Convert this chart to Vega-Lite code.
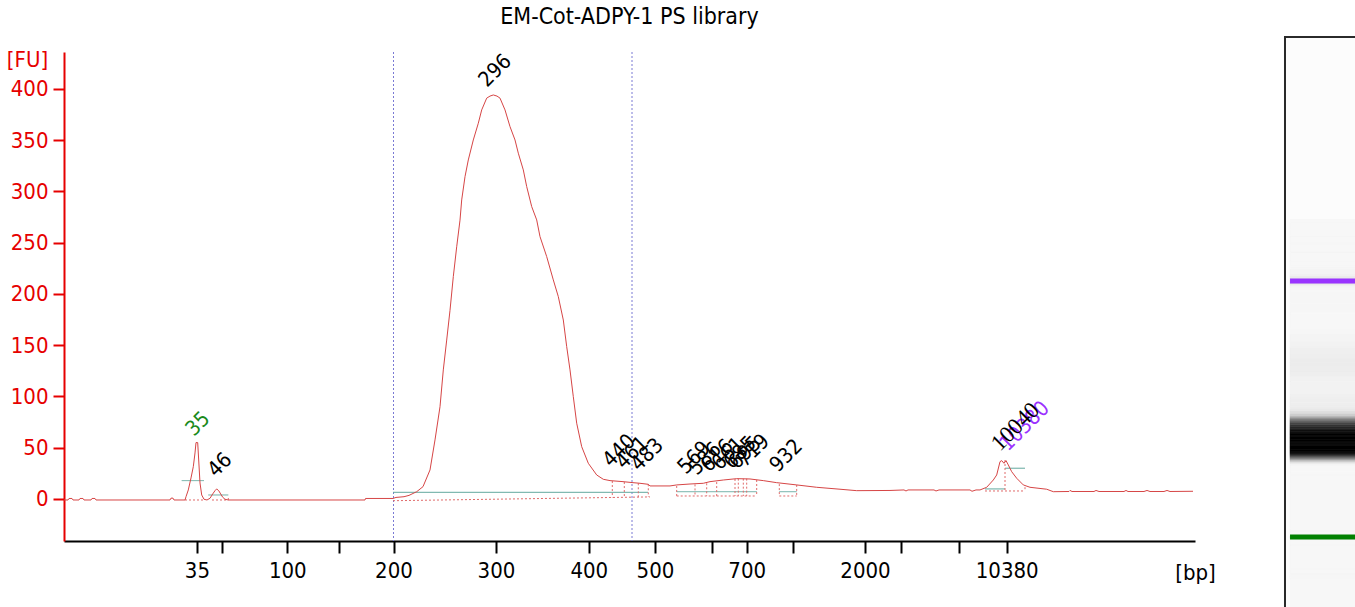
{
  "$schema": "https://vega.github.io/schema/vega-lite/v6.json",
  "width": 1131,
  "height": 489,
  "autosize": "none",
  "padding": {"left": 64, "top": 52, "right": 160, "bottom": 66},
  "background": "#ffffff",
  "config": {"view": {"stroke": null}, "axis": {"grid": false}},
  "title": {"text": "EM-Cot-ADPY-1 PS library", "font": "DejaVu Sans Condensed, Liberation Sans, sans-serif", "fontSize": 23, "fontWeight": "normal", "color": "#000000", "anchor": "middle", "frame": "group", "baseline": "alphabetic", "offset": -11},
  "datasets": {
    "curve": [
      {"t": 0, "fu": -1}, {"t": 0.4, "fu": -1}, {"t": 0.5, "fu": 0.5}, {"t": 0.8, "fu": 0.5}, {"t": 0.9, "fu": -1},
      {"t": 1.5, "fu": -1}, {"t": 1.6, "fu": 0.5}, {"t": 1.9, "fu": 0.5}, {"t": 2.0, "fu": -1},
      {"t": 2.7, "fu": -1}, {"t": 2.8, "fu": 0.5}, {"t": 3.1, "fu": 0.5}, {"t": 3.2, "fu": -1},
      {"t": 10.6, "fu": -1}, {"t": 10.7, "fu": 0.8}, {"t": 10.9, "fu": 0.8}, {"t": 11.0, "fu": -1},
      {"t": 12.1, "fu": -1}, {"t": 12.2, "fu": 2.2}, {"t": 12.43, "fu": 8.8}, {"t": 12.7, "fu": 20.5}, {"t": 12.93, "fu": 31.5},
      {"t": 13.1, "fu": 44.9}, {"t": 13.2, "fu": 55}, {"t": 13.37, "fu": 55}, {"t": 13.47, "fu": 38}, {"t": 13.6, "fu": 15.6},
      {"t": 13.77, "fu": 3.9}, {"t": 14.0, "fu": -0.3}, {"t": 14.3, "fu": -1}, {"t": 14.6, "fu": 0.7}, {"t": 14.87, "fu": 4.9},
      {"t": 15.1, "fu": 8.1}, {"t": 15.27, "fu": 9.8}, {"t": 15.47, "fu": 8.1}, {"t": 15.67, "fu": 4.9}, {"t": 15.87, "fu": 1.7},
      {"t": 16.1, "fu": -0.3}, {"t": 16.43, "fu": -1},
      {"t": 30.1, "fu": -1}, {"t": 30.15, "fu": 0.5}, {"t": 32.9, "fu": 0.5}, {"t": 33.2, "fu": 1.5}, {"t": 34.0, "fu": 2.2},
      {"t": 34.5, "fu": 3.5}, {"t": 35.27, "fu": 7.1}, {"t": 35.9, "fu": 12}, {"t": 36.6, "fu": 28.3}, {"t": 37.1, "fu": 57.6},
      {"t": 37.6, "fu": 90}, {"t": 37.93, "fu": 125.9}, {"t": 38.27, "fu": 155}, {"t": 38.6, "fu": 184}, {"t": 38.93, "fu": 216.9},
      {"t": 39.27, "fu": 246}, {"t": 39.6, "fu": 272}, {"t": 39.77, "fu": 291.7}, {"t": 40.1, "fu": 314.4}, {"t": 40.43, "fu": 330.7},
      {"t": 40.93, "fu": 350.2}, {"t": 41.43, "fu": 366.5}, {"t": 41.77, "fu": 379.5}, {"t": 42.27, "fu": 391}, {"t": 42.6, "fu": 393},
      {"t": 42.93, "fu": 394.1}, {"t": 43.3, "fu": 393}, {"t": 43.6, "fu": 391}, {"t": 44.1, "fu": 379.5}, {"t": 44.6, "fu": 363.2},
      {"t": 45.1, "fu": 350.2}, {"t": 45.43, "fu": 337.3}, {"t": 45.93, "fu": 321}, {"t": 46.27, "fu": 304.7}, {"t": 46.77, "fu": 285.2},
      {"t": 47.27, "fu": 272.2}, {"t": 47.6, "fu": 255.9}, {"t": 48.27, "fu": 236.4}, {"t": 48.93, "fu": 213.7}, {"t": 49.43, "fu": 197.4},
      {"t": 49.93, "fu": 174.6}, {"t": 50.27, "fu": 148.6}, {"t": 50.6, "fu": 125.9}, {"t": 50.93, "fu": 99.8}, {"t": 51.27, "fu": 73.9},
      {"t": 51.77, "fu": 51}, {"t": 52.43, "fu": 34.8}, {"t": 53.27, "fu": 23.4}, {"t": 53.93, "fu": 19.2}, {"t": 54.6, "fu": 17.9},
      {"t": 55.9, "fu": 16.9}, {"t": 56.9, "fu": 15.9}, {"t": 57.6, "fu": 15.3}, {"t": 58.43, "fu": 14.3}, {"t": 58.6, "fu": 12.7},
      {"t": 60.6, "fu": 12.7}, {"t": 61.27, "fu": 13.7}, {"t": 62.6, "fu": 14.6}, {"t": 63.93, "fu": 15.3}, {"t": 64.6, "fu": 16.9},
      {"t": 65.93, "fu": 18.5}, {"t": 67.27, "fu": 19.8}, {"t": 68.6, "fu": 19.5}, {"t": 69.93, "fu": 17.9}, {"t": 71.27, "fu": 15.9},
      {"t": 73.27, "fu": 13.7}, {"t": 75.27, "fu": 11.4}, {"t": 77.6, "fu": 9.5}, {"t": 79.27, "fu": 8.1}, {"t": 82.6, "fu": 8.3},
      {"t": 84.0, "fu": 8.8}, {"t": 84.2, "fu": 7.8}, {"t": 84.4, "fu": 8.8}, {"t": 87.0, "fu": 8.8}, {"t": 87.2, "fu": 7.8},
      {"t": 87.5, "fu": 8.8}, {"t": 90.6, "fu": 8.8}, {"t": 90.8, "fu": 7.5}, {"t": 91.2, "fu": 8.8}, {"t": 91.6, "fu": 8.8},
      {"t": 92.27, "fu": 11.4}, {"t": 92.93, "fu": 18.5}, {"t": 93.27, "fu": 23.4}, {"t": 93.6, "fu": 36.4}, {"t": 93.77, "fu": 37.4},
      {"t": 94.0, "fu": 34.8}, {"t": 94.2, "fu": 37.4}, {"t": 94.43, "fu": 33.2}, {"t": 94.77, "fu": 26.6}, {"t": 95.27, "fu": 20.2},
      {"t": 95.93, "fu": 13.7}, {"t": 96.6, "fu": 11.4}, {"t": 98.27, "fu": 9.5}, {"t": 98.93, "fu": 7.1}, {"t": 100.5, "fu": 7.3},
      {"t": 100.6, "fu": 8.3}, {"t": 100.8, "fu": 7.3}, {"t": 103.0, "fu": 7.3}, {"t": 103.2, "fu": 8.3}, {"t": 103.5, "fu": 7.3},
      {"t": 106.0, "fu": 7.3}, {"t": 106.2, "fu": 8.3}, {"t": 106.4, "fu": 7.3}, {"t": 108.0, "fu": 7.3}, {"t": 108.3, "fu": 8.3},
      {"t": 108.6, "fu": 7.3}, {"t": 110.0, "fu": 7.3}, {"t": 110.3, "fu": 8.3}, {"t": 110.6, "fu": 7.3}, {"t": 112.9, "fu": 7.5}
    ],
    "regions": [{"t": 32.95}, {"t": 56.8}],
    "marks": [
      {"t1": 11.77, "t2": 14.0, "f1": 17.9, "f2": 17.9, "kind": "w"},
      {"t1": 14.43, "t2": 16.43, "f1": 3.9, "f2": 3.9, "kind": "w"},
      {"t1": 32.9, "t2": 58.4, "f1": 6.5, "f2": 6.5, "kind": "w"},
      {"t1": 61.27, "t2": 69.27, "f1": 7.1, "f2": 7.1, "kind": "w"},
      {"t1": 71.53, "t2": 73.27, "f1": 7.1, "f2": 7.1, "kind": "w"},
      {"t1": 92.1, "t2": 94.1, "f1": 9.8, "f2": 9.8, "kind": "w"},
      {"t1": 94.1, "t2": 96.1, "f1": 30, "f2": 30, "kind": "w"},
      {"t1": 12.1, "t2": 14.0, "f1": -1, "f2": -1, "kind": "b"},
      {"t1": 14.8, "t2": 16.43, "f1": -1, "f2": -1, "kind": "b"},
      {"t1": 16.43, "t2": 16.43, "f1": -1, "f2": 1, "kind": "b"},
      {"t1": 32.9, "t2": 58.6, "f1": -1.7, "f2": 2, "kind": "b"},
      {"t1": 54.83, "t2": 54.83, "f1": 17.5, "f2": 1.5, "kind": "b"},
      {"t1": 56.03, "t2": 56.03, "f1": 16.5, "f2": 1.7, "kind": "b"},
      {"t1": 57.43, "t2": 57.43, "f1": 15.3, "f2": 1.85, "kind": "b"},
      {"t1": 58.43, "t2": 58.43, "f1": 14.3, "f2": 2.0, "kind": "b"},
      {"t1": 61.27, "t2": 69.27, "f1": 2.9, "f2": 2.9, "kind": "b"},
      {"t1": 61.27, "t2": 61.27, "f1": 12.7, "f2": 2.9, "kind": "b"},
      {"t1": 63.1, "t2": 63.1, "f1": 14.2, "f2": 2.9, "kind": "b"},
      {"t1": 64.27, "t2": 64.27, "f1": 15.3, "f2": 2.9, "kind": "b"},
      {"t1": 65.27, "t2": 65.27, "f1": 16.5, "f2": 2.9, "kind": "b"},
      {"t1": 67.1, "t2": 67.1, "f1": 19.5, "f2": 2.9, "kind": "b"},
      {"t1": 67.43, "t2": 67.43, "f1": 19.8, "f2": 2.9, "kind": "b"},
      {"t1": 67.93, "t2": 67.93, "f1": 19.8, "f2": 2.9, "kind": "b"},
      {"t1": 68.27, "t2": 68.27, "f1": 19.8, "f2": 2.9, "kind": "b"},
      {"t1": 69.27, "t2": 69.27, "f1": 18.5, "f2": 2.9, "kind": "b"},
      {"t1": 71.53, "t2": 73.27, "f1": 2.9, "f2": 2.9, "kind": "b"},
      {"t1": 71.53, "t2": 71.53, "f1": 14.5, "f2": 2.9, "kind": "b"},
      {"t1": 73.27, "t2": 73.27, "f1": 13.7, "f2": 2.9, "kind": "b"},
      {"t1": 92.1, "t2": 96.1, "f1": 7.8, "f2": 7.8, "kind": "b"},
      {"t1": 94.1, "t2": 94.1, "f1": 38, "f2": 7.8, "kind": "b"},
      {"t1": 96.1, "t2": 96.1, "f1": 11.5, "f2": 7.8, "kind": "b"}
    ],
    "labels": [
      {"label": "35", "t": 13.0, "fu": 60.5, "kind": "g"},
      {"label": "46", "t": 15.2, "fu": 20.5, "kind": "k"},
      {"label": "296", "t": 42.3, "fu": 401, "kind": "k"},
      {"label": "440", "t": 54.7, "fu": 30.2, "kind": "k"},
      {"label": "461", "t": 56.0, "fu": 28.3, "kind": "k"},
      {"label": "483", "t": 57.5, "fu": 26.3, "kind": "k"},
      {"label": "569", "t": 62.2, "fu": 23.4, "kind": "k"},
      {"label": "586", "t": 63.3, "fu": 22.4, "kind": "k"},
      {"label": "616", "t": 64.5, "fu": 25.4, "kind": "k"},
      {"label": "661", "t": 65.6, "fu": 27.3, "kind": "k"},
      {"label": "685", "t": 66.8, "fu": 28.3, "kind": "k"},
      {"label": "695", "t": 67.3, "fu": 28.3, "kind": "k"},
      {"label": "719", "t": 68.1, "fu": 30.2, "kind": "k"},
      {"label": "932", "t": 71.4, "fu": 25.4, "kind": "k"},
      {"label": "10380", "t": 94.4, "fu": 45.9, "kind": "p"},
      {"label": "10040", "t": 93.6, "fu": 45.9, "kind": "s"}
    ],
    "gelmarkers": [
      {"t": 13.3, "marker": "lower"},
      {"t": 94.3, "marker": "upper"}
    ],
    "gelframe": [{"top": 171.5, "bottom": -40, "lane": 113.9}]
  },
  "layer": [
    {
      "layer": [
        {
          "data": {"name": "regions"},
          "mark": {"type": "rule", "color": "#7a7ad4", "strokeWidth": 1, "strokeDash": [2, 2]},
          "encoding": {
            "x": {"field": "t", "type": "quantitative"}
          }
        },
        {
          "data": {"name": "marks"},
          "mark": {"type": "rule", "strokeWidth": 1},
          "encoding": {
            "x": {"field": "t1", "type": "quantitative"},
            "x2": {"field": "t2"},
            "y": {"field": "f1", "type": "quantitative"},
            "y2": {"field": "f2"},
            "color": {"field": "kind", "type": "nominal", "scale": {"domain": ["w", "b"], "range": ["#62a89e", "#e06a6a"]}, "legend": null},
            "strokeDash": {"field": "kind", "type": "nominal", "scale": {"domain": ["w", "b"], "range": [[1, 0], [2, 2]]}, "legend": null}
          }
        },
        {
          "data": {"name": "curve"},
          "mark": {"type": "line", "color": "#d64545", "strokeWidth": 1, "interpolate": "linear"},
          "encoding": {
            "x": {
              "field": "t", "type": "quantitative",
              "scale": {"domain": [0, 113.1], "nice": false, "zero": false},
              "axis": {
                "values": [13.29, 15.83, 22.33, 27.52, 32.95, 43.2, 52.48, 59.1, 64.75, 68.27, 72.87, 80.1, 83.7, 89.5, 94.27],
                "labelExpr": "datum.value < 14 ? '35' : datum.value < 20 ? '' : datum.value < 25 ? '100' : datum.value < 30 ? '' : datum.value < 38 ? '200' : datum.value < 48 ? '300' : datum.value < 55 ? '400' : datum.value < 62 ? '500' : datum.value < 66 ? '' : datum.value < 70 ? '700' : datum.value < 76 ? '' : datum.value < 82 ? '2000' : datum.value < 92 ? '' : '10380'",
                "labelColor": "#000000", "tickColor": "#000000", "domainColor": "#000000",
                "domainWidth": 2, "tickWidth": 2, "tickSize": 12, "labelPadding": 7,
                "labelFont": "DejaVu Sans Condensed, Liberation Sans, sans-serif", "labelFontSize": 22,
                "labelOverlap": false, "labelFlush": false, "labelBound": false,
                "title": "[bp]", "titleX": 1131, "titleY": 31, "titleAlign": "center", "titleBaseline": "middle",
                "titleFont": "DejaVu Sans Condensed, Liberation Sans, sans-serif", "titleFontSize": 22, "titleFontWeight": "normal", "titleColor": "#000000",
                "grid": false
              }
            },
            "y": {
              "field": "fu", "type": "quantitative",
              "scale": {"domain": [-41, 436], "nice": false, "zero": false},
              "axis": {
                "values": [0, 50, 100, 150, 200, 250, 300, 350, 400],
                "labelColor": "#e60000", "tickColor": "#e60000", "domainColor": "#e60000",
                "domainWidth": 2, "tickWidth": 2, "tickSize": 11, "labelPadding": 5,
                "labelFont": "DejaVu Sans Condensed, Liberation Sans, sans-serif", "labelFontSize": 22,
                "labelOverlap": false, "labelFlush": false,
                "title": "[FU]", "titleAngle": 0, "titleX": -37, "titleY": 14, "titleAlign": "center", "titleBaseline": "alphabetic",
                "titleFont": "DejaVu Sans Condensed, Liberation Sans, sans-serif", "titleFontSize": 22, "titleFontWeight": "normal", "titleColor": "#e60000",
                "grid": false
              }
            }
          }
        },
        {
          "data": {"name": "labels"},
          "transform": [{"filter": "datum.kind != 's'"}],
          "mark": {"type": "text", "angle": 315, "align": "left", "baseline": "alphabetic", "font": "DejaVu Sans Condensed, Liberation Sans, sans-serif", "fontSize": 21},
          "encoding": {
            "x": {"field": "t", "type": "quantitative"},
            "y": {"field": "fu", "type": "quantitative"},
            "text": {"field": "label"},
            "color": {"field": "kind", "type": "nominal", "scale": {"domain": ["g", "k", "p"], "range": ["#1a8a1a", "#000000", "#9b30ff"]}, "legend": null}
          }
        },
        {
          "data": {"name": "labels"},
          "transform": [{"filter": "datum.kind == 's'"}],
          "mark": {"type": "text", "angle": 315, "align": "left", "baseline": "alphabetic", "font": "Liberation Serif, serif", "fontSize": 23, "color": "#000000"},
          "encoding": {
            "x": {"field": "t", "type": "quantitative"},
            "y": {"field": "fu", "type": "quantitative"},
            "text": {"field": "label"}
          }
        }
      ],
      "resolve": {"scale": {"color": "independent"}}
    },
    {
      "layer": [
        {
          "data": {"name": "gelframe"},
          "mark": {"type": "rect", "fill": "#fcfcfc", "stroke": "#2a2a2a", "strokeWidth": 2},
          "encoding": {
            "x": {"datum": 0.014, "type": "quantitative", "scale": {"domain": [0, 1], "range": [1220, 1291], "nice": false, "zero": false}, "axis": null},
            "x2": {"datum": 2},
            "y": {"field": "top", "type": "quantitative", "scale": {"domain": [0, 150], "range": [527, 53], "nice": false, "zero": false}, "axis": null},
            "y2": {"field": "bottom"}
          }
        },
        {
          "data": {"name": "gelframe"},
          "mark": {"type": "rect", "fill": "#f7f7f7"},
          "encoding": {
            "x": {"datum": 0.085, "type": "quantitative"},
            "x2": {"datum": 1.3},
            "y": {"field": "lane", "type": "quantitative"},
            "y2": {"field": "bottom"}
          }
        },
        {
          "data": {"name": "curve"},
          "transform": [
            {"window": [{"op": "lead", "field": "t", "as": "t2"}], "sort": [{"field": "t", "order": "ascending"}]},
            {"filter": "isValid(datum.t2)"}
          ],
          "mark": {"type": "rect", "strokeWidth": 0.6},
          "encoding": {
            "x": {"datum": 0.085, "type": "quantitative"},
            "x2": {"datum": 1.3},
            "y": {"field": "t", "type": "quantitative"},
            "y2": {"field": "t2"},
            "fill": {"field": "fu", "type": "quantitative", "scale": {"domain": [8, 300], "range": ["#f7f7f7", "#000000"], "clamp": true}, "legend": null},
            "stroke": {"field": "fu", "type": "quantitative", "scale": {"domain": [8, 300], "range": ["#f7f7f7", "#000000"], "clamp": true}, "legend": null}
          }
        },
        {
          "data": {"name": "gelmarkers"},
          "mark": {"type": "rule", "strokeWidth": 5},
          "encoding": {
            "x": {"datum": 0.085, "type": "quantitative"},
            "x2": {"datum": 1.3},
            "y": {"field": "t", "type": "quantitative"},
            "color": {"field": "marker", "type": "nominal", "scale": {"domain": ["lower", "upper"], "range": ["#008000", "#9933ff"]}, "legend": null}
          }
        }
      ]
    }
  ],
  "resolve": {"scale": {"x": "independent", "y": "independent", "color": "independent"}}
}
